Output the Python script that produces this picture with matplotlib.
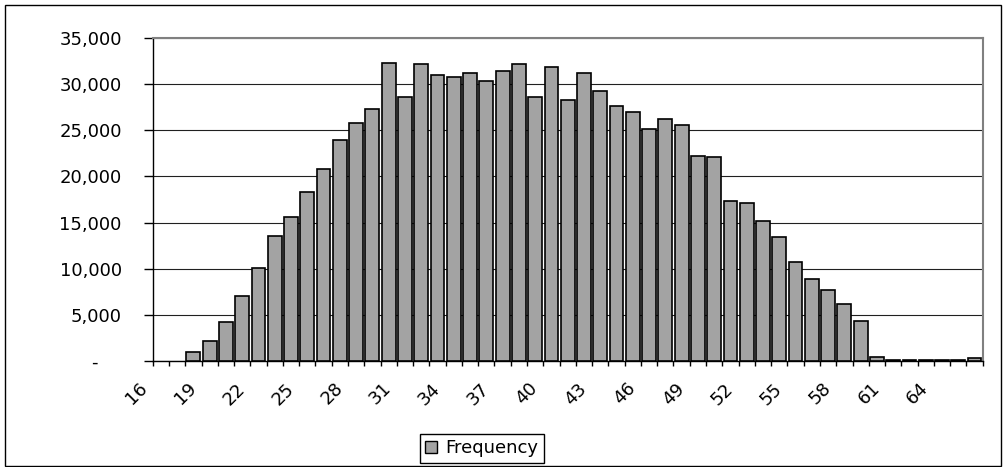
import matplotlib
matplotlib.use('Agg')
import matplotlib.pyplot as plt
import matplotlib.transforms as mtransforms
from matplotlib.patches import Patch, Rectangle
from matplotlib.ticker import FixedLocator, NullFormatter, FuncFormatter
import numpy as np

# ages 16..66 and counts
ages = list(range(16, 67))
freq = [0, 0, 1000, 2200, 4200, 7100, 10100, 13600, 15650, 18350,
        20850, 23900, 25750, 27300, 32300, 28600, 32150, 30950, 30800, 31150,
        30300, 31450, 32150, 28600, 31800, 28250, 31150, 29250, 27600, 26950,
        25100, 26250, 25550, 22200, 22050, 17350, 17150, 15150, 13450, 10750,
        8950, 7750, 6250, 4350, 500, 150, 150, 150, 150, 150,
        400]
label_every = 3
series_name = 'Frequency'

plt.rcParams['font.family'] = ['DejaVu Sans']

W, H = 1007, 467
fig = plt.figure(figsize=(W / 100, H / 100), dpi=100)
ax = fig.add_axes([152.7 / W, (H - 361.3) / H, 830 / W, 323.6 / H])

x = np.arange(len(ages))
bar_color = '#a3a3a3'
# empty categories get no outline (Excel draws nothing there)
edges = ['none' if v == 0 else 'black' for v in freq]
ax.bar(x, freq, width=0.85, color=bar_color, edgecolor=edges, linewidth=1.2, zorder=3)

ax.set_xlim(-0.5, len(ages) - 0.5)
ax.set_ylim(0, 35000)
ax.set_yticks(range(0, 35001, 5000))
ax.yaxis.set_major_formatter(FuncFormatter(
    lambda v, p: '-\u2007\u2007' if v == 0 else f'{int(v):,}'))
ax.yaxis.grid(True, color='#202020', linewidth=0.8, zorder=0)
ax.set_axisbelow(True)

# tick marks between categories, labels at every third category
ax.xaxis.set_major_locator(FixedLocator(np.arange(-0.5, len(ages))))
ax.xaxis.set_major_formatter(NullFormatter())
lab_idx = x[::label_every]
ax.set_xticks(lab_idx, [str(ages[i]) for i in lab_idx], minor=True)
ax.tick_params(axis='x', which='major', direction='out', length=3.6, width=1, color='black')
ax.tick_params(axis='x', which='minor', length=0, pad=13, labelsize=13)
ax.tick_params(axis='y', direction='out', length=6.3, width=1, pad=16, labelsize=13)

offset = mtransforms.ScaledTranslation(-10 / 100, 0, fig.dpi_scale_trans)
for lab in ax.xaxis.get_minorticklabels():
    lab.set_rotation(45)
    lab.set_ha('right')
    lab.set_va('top')
    lab.set_transform(lab.get_transform() + offset)

for side in ['left', 'bottom']:
    ax.spines[side].set_color('black')
    ax.spines[side].set_linewidth(1)
for side in ['top', 'right']:
    ax.spines[side].set_color('#808080')
    ax.spines[side].set_linewidth(1.5)

handle = Patch(facecolor=bar_color, edgecolor='black', linewidth=1)
leg = fig.legend(handles=[handle], labels=[series_name], loc='lower left',
                 bbox_to_anchor=(420 / W, 4.5 / H), fontsize=13, frameon=True,
                 fancybox=False, edgecolor='black', framealpha=1,
                 handlelength=0.65, handleheight=0.65, borderpad=0.3,
                 handletextpad=0.45, borderaxespad=0)
leg.get_frame().set_linewidth(1)

fig.patches.append(Rectangle((5 / W, 1 / H), 996 / W, 461 / H, transform=fig.transFigure,
                             fill=False, edgecolor='black', linewidth=1))

fig.savefig('out.png', dpi=100)
